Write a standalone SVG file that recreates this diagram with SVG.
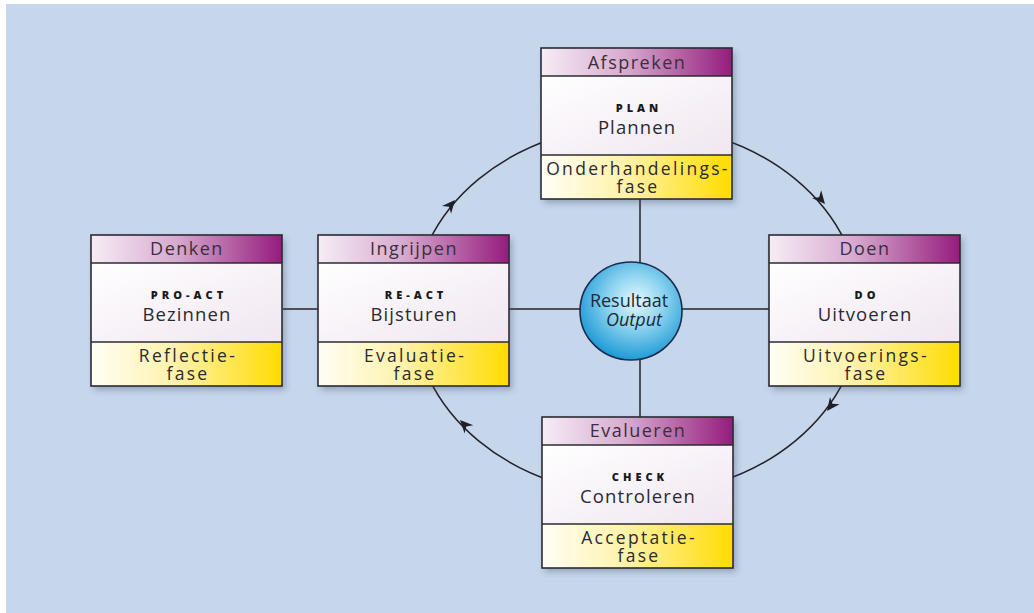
<svg xmlns="http://www.w3.org/2000/svg" width="1034" height="613" viewBox="0 0 1034 613">
  <defs>
    <linearGradient id="hdr" x1="0" y1="0" x2="1" y2="0">
      <stop offset="0" stop-color="#f6edf5"/>
      <stop offset="0.45" stop-color="#d7a9cf"/>
      <stop offset="1" stop-color="#951c7c"/>
    </linearGradient>
    <linearGradient id="body" x1="0" y1="0" x2="1" y2="1">
      <stop offset="0" stop-color="#ffffff"/>
      <stop offset="1" stop-color="#f0e6f0"/>
    </linearGradient>
    <linearGradient id="ftr" x1="0" y1="0" x2="1" y2="0">
      <stop offset="0" stop-color="#fffef6"/>
      <stop offset="0.45" stop-color="#fff2a8"/>
      <stop offset="1" stop-color="#ffdc00"/>
    </linearGradient>
    <radialGradient id="ball" cx="0.55" cy="0.4" r="0.6">
      <stop offset="0" stop-color="#e6f8fd"/>
      <stop offset="0.45" stop-color="#8fd4f0"/>
      <stop offset="1" stop-color="#1f9bd6"/>
    </radialGradient>
    <filter id="shadow" x="-10%" y="-10%" width="125%" height="125%">
      <feDropShadow dx="3" dy="4" stdDeviation="3" flood-color="#34405a" flood-opacity="0.35"/>
    </filter>
    <path id="ah" d="M0,0 L-13,-6 L-9,0 L-13,6 Z"/>
  </defs>
  <style>
    .base { fill: #ffffff; stroke: none; }
    .outline { fill: none; stroke: #2b2b33; stroke-width: 1.6; }
    .sep { stroke: #2b2b33; stroke-width: 1.6; }
    .hd { font-family: "Open Sans", "DejaVu Sans", sans-serif; font-size: 18px; letter-spacing: 1.5px; fill: #3a2f3d; text-anchor: middle; }
    .ttl { font-family: "Open Sans", "DejaVu Sans", sans-serif; font-size: 11px; font-weight: 800; letter-spacing: 4px; fill: #1a1a1a; text-anchor: middle; }
    .nm { font-family: "Open Sans", "DejaVu Sans", sans-serif; font-size: 18.5px; letter-spacing: 1.1px; fill: #2a2a30; text-anchor: middle; }
    .ft { font-family: "Open Sans", "DejaVu Sans", sans-serif; font-size: 17.5px; letter-spacing: 2.3px; fill: #2a2a30; text-anchor: middle; }
    .ctr { font-family: "Open Sans", "DejaVu Sans", sans-serif; font-size: 18px; fill: #1d2a3a; text-anchor: middle; }
    .con { fill: none; stroke: #23232e; stroke-width: 1.5; }
    .arrow { fill: #1f1f2a; }
  </style>

  <rect x="0" y="0" width="1034" height="613" fill="#ffffff"/>
  <rect x="6" y="4" width="1028" height="609" fill="#c6d6eb"/>

  <g id="connectors">
    <ellipse class="con" cx="637" cy="310" rx="224" ry="185"/>
    <line class="con" x1="283" y1="309" x2="318" y2="309"/>
    <line class="con" x1="509" y1="309" x2="769" y2="309"/>
    <line class="con" x1="640" y1="199" x2="640" y2="417"/>
    <use href="#ah" class="arrow" transform="translate(455,200) rotate(-49.3)"/>
    <use href="#ah" class="arrow" transform="translate(825,204) rotate(49.6)"/>
    <use href="#ah" class="arrow" transform="translate(827,411) rotate(126.8)"/>
    <use href="#ah" class="arrow" transform="translate(460,420) rotate(-133.6)"/>
  </g>

  <g id="resultaat">
    <ellipse cx="631" cy="311" rx="51" ry="49" fill="url(#ball)" stroke="#1d2b4d" stroke-width="1.6"/>
    <text class="ctr" x="629" y="307">Resultaat</text>
    <text class="ctr" x="634" y="326" font-style="italic">Output</text>
  </g>

  <g id="plan" transform="translate(541,48)">
    <rect class="base" x="0" y="0" width="191" height="151" filter="url(#shadow)"/>
    <rect x="0" y="0" width="191" height="28" fill="url(#hdr)"/>
    <rect x="0" y="28" width="191" height="79" fill="url(#body)"/>
    <rect x="0" y="107" width="191" height="44" fill="url(#ftr)"/>
    <line class="sep" x1="0" y1="28" x2="191" y2="28"/>
    <line class="sep" x1="0" y1="107" x2="191" y2="107"/>
    <rect class="outline" x="0" y="0" width="191" height="151"/>
    <text class="hd" x="96" y="21">Afspreken</text>
    <text class="ttl" x="98" y="64">PLAN</text>
    <text class="nm" x="96" y="86">Plannen</text>
    <text class="ft" x="97" y="127">Onderhandelings-</text>
    <text class="ft" x="97" y="145">fase</text>
  </g>

  <g id="denken" transform="translate(91,235)">
    <rect class="base" x="0" y="0" width="191" height="151" filter="url(#shadow)"/>
    <rect x="0" y="0" width="191" height="28" fill="url(#hdr)"/>
    <rect x="0" y="28" width="191" height="79" fill="url(#body)"/>
    <rect x="0" y="107" width="191" height="44" fill="url(#ftr)"/>
    <line class="sep" x1="0" y1="28" x2="191" y2="28"/>
    <line class="sep" x1="0" y1="107" x2="191" y2="107"/>
    <rect class="outline" x="0" y="0" width="191" height="151"/>
    <text class="hd" x="96" y="20">Denken</text>
    <text class="ttl" x="98" y="64">PRO-ACT</text>
    <text class="nm" x="96" y="86">Bezinnen</text>
    <text class="ft" x="97" y="127">Reflectie-</text>
    <text class="ft" x="97" y="145">fase</text>
  </g>

  <g id="ingrijpen" transform="translate(318,235)">
    <rect class="base" x="0" y="0" width="191" height="151" filter="url(#shadow)"/>
    <rect x="0" y="0" width="191" height="28" fill="url(#hdr)"/>
    <rect x="0" y="28" width="191" height="79" fill="url(#body)"/>
    <rect x="0" y="107" width="191" height="44" fill="url(#ftr)"/>
    <line class="sep" x1="0" y1="28" x2="191" y2="28"/>
    <line class="sep" x1="0" y1="107" x2="191" y2="107"/>
    <rect class="outline" x="0" y="0" width="191" height="151"/>
    <text class="hd" x="96" y="20">Ingrijpen</text>
    <text class="ttl" x="98" y="64">RE-ACT</text>
    <text class="nm" x="96" y="86">Bijsturen</text>
    <text class="ft" x="97" y="127">Evaluatie-</text>
    <text class="ft" x="97" y="145">fase</text>
  </g>

  <g id="doen" transform="translate(769,235)">
    <rect class="base" x="0" y="0" width="191" height="151" filter="url(#shadow)"/>
    <rect x="0" y="0" width="191" height="28" fill="url(#hdr)"/>
    <rect x="0" y="28" width="191" height="79" fill="url(#body)"/>
    <rect x="0" y="107" width="191" height="44" fill="url(#ftr)"/>
    <line class="sep" x1="0" y1="28" x2="191" y2="28"/>
    <line class="sep" x1="0" y1="107" x2="191" y2="107"/>
    <rect class="outline" x="0" y="0" width="191" height="151"/>
    <text class="hd" x="96" y="20">Doen</text>
    <text class="ttl" x="98" y="64">DO</text>
    <text class="nm" x="96" y="86">Uitvoeren</text>
    <text class="ft" x="97" y="127">Uitvoerings-</text>
    <text class="ft" x="97" y="145">fase</text>
  </g>

  <g id="check" transform="translate(542,417)">
    <rect class="base" x="0" y="0" width="191" height="151" filter="url(#shadow)"/>
    <rect x="0" y="0" width="191" height="28" fill="url(#hdr)"/>
    <rect x="0" y="28" width="191" height="79" fill="url(#body)"/>
    <rect x="0" y="107" width="191" height="44" fill="url(#ftr)"/>
    <line class="sep" x1="0" y1="28" x2="191" y2="28"/>
    <line class="sep" x1="0" y1="107" x2="191" y2="107"/>
    <rect class="outline" x="0" y="0" width="191" height="151"/>
    <text class="hd" x="96" y="20">Evalueren</text>
    <text class="ttl" x="98" y="64">CHECK</text>
    <text class="nm" x="96" y="86">Controleren</text>
    <text class="ft" x="97" y="127">Acceptatie-</text>
    <text class="ft" x="97" y="145">fase</text>
  </g>
</svg>
